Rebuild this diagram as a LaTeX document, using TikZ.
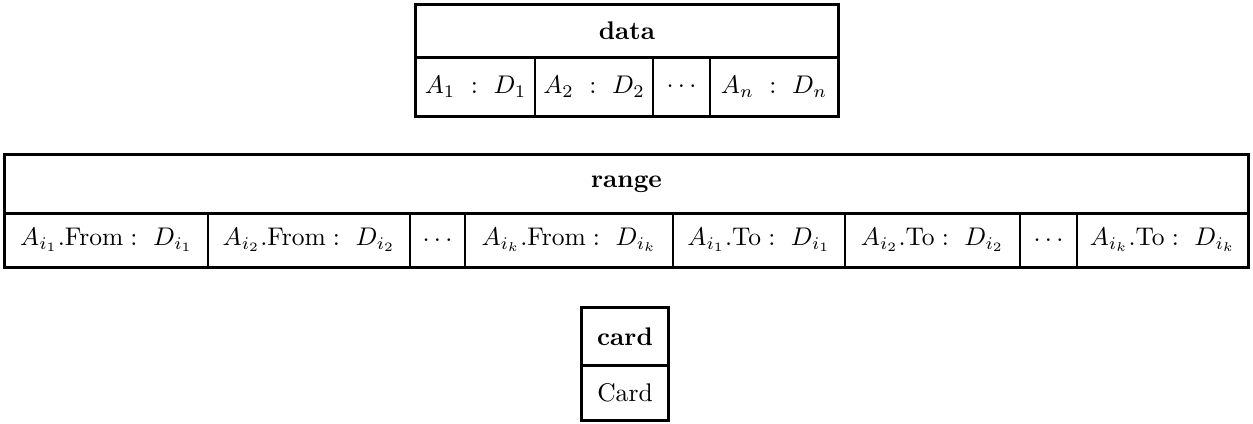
\documentclass[tikz,border=0pt]{standalone}
\newcommand\lowdots{\ensuremath{\mathinner{\ldotp\ldotp\ldotp}}}
\newcommand\cellbox[6]{\node[cell, minimum width={(#4-#2)*0.392pt}, minimum height={(#5-#3)*0.392pt}] (#1) at ({(#2+#4)/2},{(#3+#5)/2}) {#6};}
\begin{document}
\begin{tikzpicture}[x=0.392pt, y=-0.392pt,
  cell/.style={draw, line width=0.6pt, inner sep=0pt, rectangle},
  frame/.style={line width=1.2pt}]
\useasboundingbox (0,0) rectangle (1253,423);
% data table
\cellbox{dh}{416}{5}{838}{57}{\textbf{data}}
\cellbox{d1}{416}{57}{535}{116}{$A_1\ :\ D_1$}
\cellbox{d2}{535}{57}{653}{116}{$A_2\ :\ D_2$}
\cellbox{d3}{653}{57}{710}{116}{\lowdots}
\cellbox{d4}{710}{57}{838}{116}{$A_n\ :\ D_n$}
\draw[frame] (dh.north west) rectangle (d4.south east);
\draw[frame] (dh.south west) -- (dh.south east);
% range table
\cellbox{rh}{5}{155}{1248}{213}{\textbf{range}}
\cellbox{r1}{5}{213}{208}{267}{$A_{i_1}.\mathrm{From}:\ D_{i_1}$}
\cellbox{r2}{208}{213}{410}{267}{$A_{i_2}.\mathrm{From}:\ D_{i_2}$}
\cellbox{r3}{410}{213}{465}{267}{\lowdots}
\cellbox{r4}{465}{213}{673}{267}{$A_{i_k}.\mathrm{From}:\ D_{i_k}$}
\cellbox{r5}{673}{213}{845}{267}{$A_{i_1}.\mathrm{To}:\ D_{i_1}$}
\cellbox{r6}{845}{213}{1020}{267}{$A_{i_2}.\mathrm{To}:\ D_{i_2}$}
\cellbox{r7}{1020}{213}{1077}{267}{\lowdots}
\cellbox{r8}{1077}{213}{1248}{267}{$A_{i_k}.\mathrm{To}:\ D_{i_k}$}
\draw[frame] (rh.north west) rectangle (r8.south east);
\draw[frame] (rh.south west) -- (rh.south east);
% card table
\cellbox{ch}{582}{308}{668}{365}{\textbf{card}}
\cellbox{c1}{582}{365}{668}{420}{Card}
\draw[frame] (ch.north west) rectangle (c1.south east);
\draw[frame] (ch.south west) -- (ch.south east);
\end{tikzpicture}
\end{document}
